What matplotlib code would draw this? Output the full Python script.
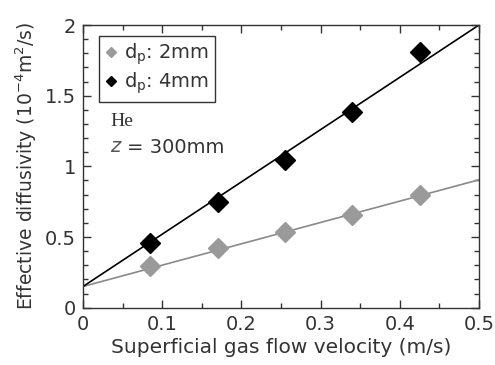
import matplotlib
matplotlib.use("Agg")
import matplotlib.pyplot as plt
from matplotlib.ticker import MultipleLocator

# gas velocity (m/s)
velocity = [0.085, 0.17, 0.255, 0.34, 0.425]
# effective diffusivity (1e-4 m2/s)
diff_2mm = [0.295, 0.42, 0.534, 0.656, 0.80]
diff_4mm = [0.456, 0.75, 1.045, 1.387, 1.807]

# fitted lines, read as end points
fit_x = [0.0, 0.5]
fit_2mm = [0.15, 0.905]
fit_4mm = [0.15, 2.0]

xticks = [0, 0.1, 0.2, 0.3, 0.4, 0.5]
xticklabels = ['0', '0.1', '0.2', '0.3', '0.4', '0.5']
yticks = [0, 0.5, 1, 1.5, 2]
yticklabels = ['0', '0.5', '1', '1.5', '2']

plt.rcParams['font.family'] = ['DejaVu Sans']

fig = plt.figure(figsize=(4.95, 3.65), dpi=100)
ax = fig.add_axes([0.1677, 0.157, 0.80, 0.7745])

ax.plot(fit_x, fit_2mm, color='#8a8a8a', lw=1.2, zorder=2)
ax.plot(fit_x, fit_4mm, color='black', lw=1.2, zorder=2)
ax.plot(velocity, diff_2mm, 'D', color='#9a9a9a', ms=10, ls='none',
        label='d$_\\mathregular{p}$: 2mm', zorder=3)
ax.plot(velocity, diff_4mm, 'D', color='black', ms=10, ls='none',
        label='d$_\\mathregular{p}$: 4mm', zorder=3)

ax.set_xlim(0, 0.5)
ax.set_ylim(0, 2)
ax.set_xticks(xticks)
ax.set_xticklabels(xticklabels)
ax.set_yticks(yticks)
ax.set_yticklabels(yticklabels)
ax.xaxis.set_minor_locator(MultipleLocator(0.05))
ax.yaxis.set_minor_locator(MultipleLocator(0.1))
ax.tick_params(which='both', direction='in', top=True, right=True,
               labelsize=14, colors='#333333', width=1)
ax.tick_params(which='major', length=6, pad=5)
ax.tick_params(which='minor', length=3.5)
for s in ax.spines.values():
    s.set_color('#333333')
    s.set_linewidth(1)

ax.set_xlabel('Superficial gas flow velocity (m/s)', fontsize=14.5,
              color='#333333', labelpad=3)
ax.set_ylabel('Effective diffusivity (10$^{\\mathregular{-4}}$m$^{\\mathregular{2}}$/s)',
              fontsize=13.5, color='#333333', labelpad=4)

leg = ax.legend(loc='upper left', bbox_to_anchor=(0.04, 0.961), fontsize=14,
                markerscale=0.55, handlelength=0.6, handletextpad=0.4,
                borderpad=0.3, labelspacing=0.15, borderaxespad=0,
                fancybox=False, edgecolor='#333333', framealpha=1)
leg.get_frame().set_linewidth(1)
for t in leg.get_texts():
    t.set_color('#333333')

ax.text(0.034, 1.314, 'He', fontsize=14, family='Liberation Serif',
        color='#333333', va='center')
ax.text(0.034, 1.13, '$z$', fontsize=14, family='Liberation Serif',
        color='#555555', va='center')
ax.text(0.056, 1.13, '= 300mm', fontsize=14, color='#333333', va='center')

fig.savefig('out.png', dpi=100)
